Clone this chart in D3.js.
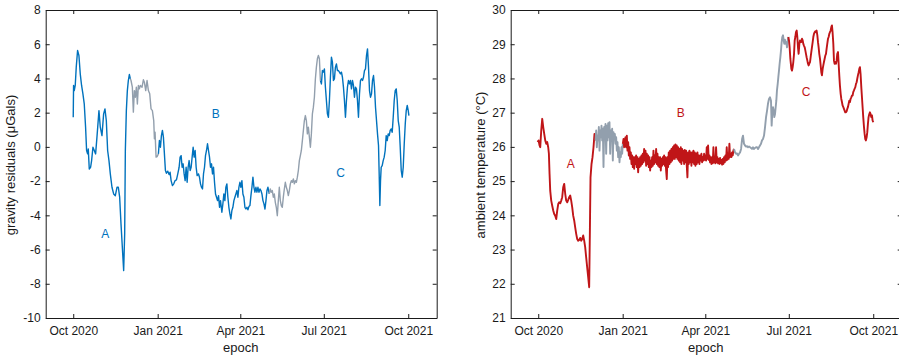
<!DOCTYPE html>
<html><head><meta charset="utf-8">
<script src="https://cdn.jsdelivr.net/npm/d3@7"></script>
<style>body{margin:0;background:#fff} svg{display:block} text{font-family:"Liberation Sans",Arial,sans-serif;}</style>
</head><body><svg id="c" width="899" height="355"></svg>
<script>
// day offsets are counted from 1 Oct 2020 (UTC)
const startDate = Date.UTC(2020, 9, 1);
const xDomain = ["2020-09-01T00:00:00Z", "2021-11-01T00:00:00Z"];
const xTickDates = ["2020-10-01", "2021-01-01", "2021-04-01", "2021-07-01", "2021-10-01"];
const gravityTicks = [-10, -8, -6, -4, -2, 0, 2, 4, 6, 8];
const tempTicks = [21, 22, 23, 24, 25, 26, 27, 28, 29, 30];

// [day offset, gravity residual µGal]
const gravity = [[0,1.73],[0.36,3.59],[1.09,3.29],[2.18,3.59],[3.28,4.66],[4.73,5.63],[6.19,5.34],[7.64,4.27],[9.1,3.59],[10.55,3.1],[12.01,2.51],[13.46,1.15],[14.56,-0.21],[15.65,-0.41],[16.38,-0.12],[17.47,-1.29],[18.92,-1.19],[20.01,-0.8],[21.47,-0.02],[22.93,-0.21],[24.38,-0.41],[25.84,0.57],[28.02,2.12],[29.48,1.15],[31.3,0.66],[33.12,1.93],[34.57,2.22],[36.03,1.54],[37.48,-0.21],[38.94,-0.8],[40.39,-1.58],[42.21,-2.36],[44.03,-2.75],[45.85,-2.85],[47.67,-2.36],[49.13,-2.36],[50.58,-2.94],[52.04,-4.5],[53.49,-5.87],[54.95,-7.23],[56.04,-5.09],[56.77,-0.21],[57.86,2.12],[58.95,3.29],[60.04,3.88],[61.14,4.23],
[62.23,3.98],[62.95,3.88],[64.41,3.49],[65.5,2.03],[66.59,3.29],[67.69,2.9],[68.78,3.49],[69.87,2.51],[70.96,3.59],[72.05,3.39],[73.14,3.59],[74.96,3.49],[76.42,3.92],[77.51,3.78],[78.97,3.29],[80.42,3.88],[81.88,3.29],[83.33,3.1],[84.79,2.22],[86.24,2.12],[87.7,1.54],[88.43,0.47],[89.16,0.86],[90.25,-0.6],[91.34,-0.57],
[92.79,-0.41],[93.89,0.37],[94.98,-0.02],[96.07,0.66],[97.16,0.96],[98.25,0.57],[99.34,-0.41],[100.44,-1.38],[101.53,-1.54],[102.98,-1.42],[104.44,-1.62],[105.53,-1.48],[106.62,-1.97],[108.08,-2.26],[109.53,-2.16],[110.99,-1.97],[112.45,-1.93],[113.9,-1.58],[115.36,-1.19],[116.45,-0.6],[117.54,-0.51],[118.63,-1.19],[119.72,-0.99],[120.82,-1.58],[121.91,-1.97],[123,-1.19],[124.09,-2.07],[125.18,-1.19],[126.27,-0.8],[127.37,-1.38],[128.46,-1.19],[129.55,-0.6],[130.64,-0.02],[131.73,-0.6],[132.82,-0.21],[133.92,-1.19],[135.01,-1.68],[136.46,-1.58],[137.55,-1.77],[138.65,-2.16],[139.74,-2.36],[140.83,-2.46],[141.92,-1.58],[143.01,-1.19],[144.1,-0.51],[145.2,-0.21],[146.29,0.18],[147.38,-0.21],[148.47,-0.6],[149.56,-1.19],[150.66,-0.99],[151.75,-1.58],[152.84,-1.19],[153.93,-2.07],[155.02,-2.75],[156.11,-2.94],[157.21,-3.14],[158.3,-2.85],[159.39,-3.53],[160.48,-3.14],[161.94,-3.82],[163.03,-3.33],[164.12,-2.75],[165.21,-3.14],[166.3,-2.36],[167.39,-2.16],[168.49,-2.94],[169.58,-3.53],[170.67,-3.92],[171.76,-4.21],[172.85,-3.72],[173.94,-3.53],[175.04,-3.14],[176.13,-2.94],[177.22,-2.75],[178.31,-2.55],[179.4,-2.94],[180.49,-2.36],[181.59,-2.07],[182.68,-2.36],[183.77,-1.97],[184.86,-2.75],[185.95,-2.94],[187.05,-3.53],[188.14,-3.63],[189.23,-3.53],[190.32,-3.68],[191.41,-3.49],[192.5,-3.43],[193.6,-2.85],[194.69,-2.36],[195.78,-1.77],[196.87,-2.36],[197.96,-2.65],[199.05,-2.36],[200.15,-2.65],[201.24,-2.36],[202.33,-2.65],[203.42,-2.46],[204.51,-2.55],[205.6,-2.75],[206.7,-3.14],[207.79,-3.33],[208.88,-3.63],[209.97,-3.14],[211.06,-2.55],[212.15,-2.36],
[213.61,-2.75],[214.7,-2.46],[215.79,-2.65],[216.89,-2.55],[217.98,-2.94],[219.07,-2.75],[220.16,-3.24],[221.25,-3.53],[222.34,-4.02],[223.44,-3.14],[224.53,-2.36],[225.62,-3.14],[226.71,-3.43],[227.8,-3.53],[228.89,-2.94],[229.99,-2.46],[231.08,-2.07],[232.17,-2.36],[233.26,-2.55],[234.35,-2.85],[235.44,-2.55],[236.54,-2.16],[237.63,-1.97],[238.72,-2.07],[239.81,-1.87],[240.9,-2.16],[241.99,-1.97],[243.09,-2.07],[244.18,-1.77],[245.27,-1.38],[246.36,-0.8],[247.45,-0.51],[248.54,-0.21],[249.64,0.37],[250.73,0.96],[251.82,1.54],[252.91,1.83],[254,1.54],[255.09,0.76],[256.19,1.15],[257.28,0.57],[258.37,-0.02],[259.46,0.76],[260.55,1.93],[261.64,2.32],[262.74,2.9],[263.83,3.98],[264.92,4.66],[266.01,5.15],[267.1,5.34],[268.2,5.15],
[269.29,3.88],[270.38,3.68],[271.47,4.46],[272.56,4.37],[273.65,4.56],[274.75,3.49],[275.84,2.71],[276.93,1.93],[278.02,1.73],[279.11,2.71],[280.2,4.07],[281.3,5.24],[282.39,4.95],[283.48,3.88],[284.57,3.98],[285.66,4.66],[286.75,4.85],[287.85,4.46],[288.94,4.46],[290.03,4.37],[291.12,4.27],[292.21,4.37],[293.3,4.07],[294.4,3.49],[295.49,2.71],[296.58,1.73],[297.67,2.71],[298.76,3.49],[299.85,3.88],[300.95,3.68],[302.04,3.88],[303.13,3.39],[304.22,3.88],[305.31,3.59],[306.4,2.9],[307.5,3.49],[308.59,3.39],[309.68,2.71],[310.77,1.73],[311.86,3.1],[312.95,3.88],[314.05,3.98],[315.14,3.88],[316.23,4.07],[317.32,4.46],[318.41,4.56],[319.51,5.34],[320.6,5.73],[321.69,4.66],[322.78,3.29],[323.87,2.9],[324.96,3.1],[326.06,3.88],[327.15,4.17],[328.24,3.49],[329.33,2.32],[330.42,1.54],[331.51,0.76],[332.61,0.08],[333.33,-1.58],[334.06,-3.43],[334.79,-1.97],[335.52,-1.19],[336.61,-1.09],[337.7,-0.8],[338.79,-0.6],[339.88,-0.21],[340.98,0.66],[342.07,0.37],[343.16,0.76],[344.25,0.66],[345.34,0.96],[346.43,1.05],[347.53,0.86],[348.62,1.73],[349.71,2.71],[350.8,3.29],[351.89,3.39],[352.98,2.71],[354.08,1.54],[355.17,1.15],[356.26,-0.02],[357.35,-1.38],[358.44,-1.77],[359.53,-1.19],[360.63,0.18],[361.75,1.35],[362.81,2.12],[363.9,2.42],[364.99,2.12],[365.72,1.83]];

// [day offset, ambient temperature °C]
const temperature = [[-0.73,26.14],[0.36,26.19],[1.45,26.04],[2.18,25.99],[3.27,26.48],[4.35,26.82],[5.44,26.58],[6.53,26.38],[7.62,26.19],[8.71,26.09],[9.8,26.14],[10.88,25.99],[11.61,25.8],[12.34,25.21],[13.06,24.72],[14.15,24.43],[15.24,24.28],[16.33,24.14],[17.41,24.04],[18.5,23.99],[19.59,23.89],[20.68,24.14],[21.77,24.33],[22.86,24.38],[23.94,24.35],[25.03,24.43],[26.12,24.53],[27.21,24.82],[28.3,24.92],[29.39,24.63],[30.47,24.43],[31.56,24.38],[32.65,24.45],[33.74,24.53],[34.83,24.58],[35.92,24.43],[37,24.24],[38.09,23.99],[39.18,23.85],[40.27,23.65],[41.36,23.46],[42.45,23.31],[43.54,23.26],[44.62,23.28],[45.71,23.34],[46.8,23.26],[47.89,23.31],[48.98,23.41],[50.07,23.26],[51.15,23.07],[52.24,22.77],[53.33,22.48],[54.42,22.19],[55.51,21.9],[56.23,23.46],[56.96,25.11],[58.05,25.5],[59.14,25.7],[60.22,25.99],[61.31,26.38],
[62.4,26.19],[63.13,26.48],[63.85,25.99],[64.58,26.33],[65.3,26.19],[66.03,26.58],[66.76,25.89],[67.48,26.48],[68.21,26.28],[68.93,26.62],[69.66,26.19],[70.38,26.53],[71.11,25.41],[71.84,26.58],[72.56,26.38],[73.29,26.67],[74.01,25.8],[74.74,26.62],[75.46,26.19],[76.19,26.69],[76.92,26.28],[77.64,26.72],[78.37,25.8],[79.09,26.48],[79.82,26.28],[80.54,26.53],[81.27,25.6],[82,26.43],[82.72,26.23],[83.45,26.38],[84.17,26.09],[84.9,26.28],[85.62,25.89],[86.35,26.14],[87.08,25.7],[87.8,25.99],[88.53,25.55],[89.25,25.84],[89.98,25.7],[90.7,25.99],[91.43,25.8],
[92.16,26.09],[92.89,26.23],[93.61,25.99],[94.34,26.19],[95.06,26.28],[95.79,25.99],[96.51,26.33],[97.24,25.89],[97.97,26.14],[98.69,25.75],[99.42,25.99],[100.14,25.65],[100.87,25.84],[101.6,25.5],[102.32,25.75],[103.05,25.41],[103.77,25.7],[104.5,25.36],[105.22,25.7],[105.95,25.5],[106.67,25.75],[107.4,25.41],[108.13,25.7],[108.85,25.26],[109.58,25.65],[110.3,25.41],[111.03,25.7],[111.75,25.45],[112.48,25.75],[113.21,25.5],[113.93,25.8],[114.66,25.55],[115.38,25.94],[116.11,25.6],[116.83,25.89],[117.56,25.45],[118.29,25.8],[119.01,25.5],[119.74,25.75],[120.46,25.41],[121.19,25.7],[121.91,25.31],[122.64,25.6],[123.37,25.41],[124.09,25.7],[124.82,25.45],[125.54,25.89],[126.27,25.5],[126.99,25.75],[127.72,25.55],[128.45,25.94],[129.17,25.5],[129.9,25.8],[130.62,25.45],[131.35,25.7],[132.07,25.41],[132.8,25.7],[133.53,25.31],[134.25,25.65],[134.98,25.45],[135.7,25.7],[136.43,25.5],[137.15,25.75],[137.88,25.45],[138.61,25.7],[139.33,25.31],[140.06,25.06],[140.78,25.7],[141.51,25.41],[142.23,25.84],[142.96,25.5],[143.69,25.89],[144.41,25.55],[145.14,25.94],[145.86,25.6],[146.59,25.99],[147.31,25.65],[148.04,26.04],[148.77,25.65],[149.49,26.07],[150.22,25.7],[150.94,26.04],[151.67,25.65],[152.39,25.99],[153.12,25.6],[153.85,25.94],[154.57,25.55],[155.3,25.99],[156.02,25.5],[156.75,25.94],[157.47,25.6],[158.2,25.89],[158.93,25.5],[159.65,25.91],[160.38,25.55],[161.1,25.89],[161.83,25.45],[162.55,25.11],[163.28,25.84],[164.01,25.5],[164.73,25.89],[165.46,25.55],[166.18,25.84],[166.91,25.45],[167.63,25.84],[168.36,25.55],[169.09,25.89],[169.81,25.5],[170.54,25.84],[171.26,25.45],[171.99,25.8],[172.71,25.5],[173.44,25.84],[174.17,25.55],[174.89,25.75],[175.62,25.5],[176.34,25.75],[177.07,25.6],[177.79,25.8],[178.52,25.55],[179.25,25.7],[179.97,25.6],[180.7,25.8],[181.42,25.62],[182.15,25.75],[182.87,25.6],[183.6,25.99],[184.33,25.65],[185.05,26.04],[185.78,25.62],[186.5,25.75],[187.23,25.55],[187.95,25.7],[188.68,25.5],[189.41,25.7],[190.13,25.52],[190.86,25.99],[191.58,25.55],[192.31,25.7],[193.03,25.52],[193.76,25.99],[194.49,25.55],[195.21,25.7],[195.94,25.52],[196.66,25.65],[197.39,25.5],[198.11,25.68],[198.84,25.52],[199.57,25.62],[200.29,25.48],[201.02,25.65],[201.74,25.5],[202.47,25.7],[203.19,25.55],[203.92,25.75],[204.65,25.6],[205.37,25.99],[206.1,25.62],[206.82,25.8],[207.55,25.65],[208.27,26.09],[209,25.7],[209.73,25.8],[210.45,25.7],[211.18,25.84],[211.9,25.75],[212.63,25.89],
[213.3,25.94],[214.4,25.84],[215.5,25.8],[216.6,25.81],[217.7,25.75],[218.8,25.8],[219.9,25.84],[221,25.94],[222.1,26.23],[223.1,26.33],[224.2,26.09],[225.3,26.04],[226.4,26.01],[227.5,26.02],[228.6,25.99],[229.7,26.01],[230.8,25.99],[231.8,25.97],[232.9,25.94],[234,25.99],[235.1,25.94],[236.2,25.97],[237.3,25.99],[238.4,25.99],[239.5,25.94],[240.5,25.99],[241.6,26.04],[242.7,26.09],[243.8,26.19],[244.9,26.23],[246,26.33],[247.1,26.58],[248.2,26.87],[249.3,27.06],[250.3,27.26],[251.4,27.4],[252.5,27.45],[253.6,27.35],[254.3,26.62],[255.1,27.06],[255.8,27.16],[256.5,27.06],[257.2,26.87],[258,26.96],[258.7,27.16],[259.4,27.35],[260.1,27.65],[260.9,27.84],[261.6,28.04],[262.3,28.23],[263,28.43],[263.8,28.62],[264.5,28.82],[265.2,29.06],[265.9,29.21],[266.7,29.26],[267.4,29.11],[268.1,29.01],[268.8,29.13],[269.6,29.01],[270.3,29.06],[271,28.91],[271.8,29.11],
[272.5,29.21],[273.2,29.11],[273.9,28.91],[274.7,28.57],[275.8,28.28],[276.5,28.23],[277.2,28.33],[277.9,28.48],[278.7,28.72],[279.4,29.11],[280.1,29.21],[280.8,29.35],[281.6,29.4],[282.3,29.21],[283,28.91],[283.7,28.72],[284.5,29.01],[285.2,29.11],[285.9,29.06],[286.6,29.06],[287.4,29.16],[288.1,29.11],[288.8,29.01],[289.5,28.96],[290.3,28.91],[291,28.82],[291.7,28.72],[292.4,28.62],[293.2,28.52],[293.9,28.43],[294.6,28.38],[295.3,28.43],[296.1,28.48],[296.8,28.62],[297.5,28.77],[298.2,28.91],[299,29.06],[299.7,29.21],[300.4,29.3],[301.2,29.35],[301.9,29.38],[302.6,29.35],[303.3,29.4],[304.1,29.26],[304.8,29.06],[305.5,28.91],[306.2,28.72],[307,28.57],[307.7,28.38],[308.4,28.18],[309.1,28.09],[309.9,28.28],[310.6,28.38],[311.3,28.48],[312,28.57],[312.8,28.67],[313.5,28.72],[314.2,28.87],[314.9,29.01],[315.7,29.16],[316.4,29.21],[317.1,29.3],[317.8,29.35],[318.6,29.4],[319.3,29.5],[320,29.55],[320.7,29.35],[321.5,29.01],[322.2,28.52],[322.9,28.43],[323.6,28.48],[324.4,28.43],[325.1,28.52],[325.8,28.72],[326.6,28.77],[327.3,28.43],[328,28.09],[328.7,27.79],[329.5,27.55],[330.2,27.4],[330.9,27.31],[331.6,27.21],[332.4,27.16],[333.1,27.11],[333.8,27.06],[334.5,27.01],[335.3,27.01],[336,27.04],[336.7,27.11],[337.4,27.16],[338.2,27.26],[338.9,27.35],[339.6,27.31],[340.3,27.4],[341.1,27.45],[341.8,27.5],[342.5,27.5],[343.2,27.6],[344,27.65],[344.7,27.7],[345.4,27.74],[346.2,27.84],[346.9,27.89],[347.6,27.99],[348.3,28.09],[349.1,28.18],[349.8,28.28],[350.5,28.33],[351.2,28.13],[352,27.74],[352.7,27.45],[353.4,27.16],[354.1,26.87],[354.9,26.58],[355.6,26.38],[356.3,26.23],[357,26.19],[357.8,26.28],[358.5,26.43],[359.2,26.67],[359.9,26.87],[360.7,26.96],[361.4,27.01],[362.1,26.96],[362.8,26.87],[363.6,26.92],[364.3,26.77],[365,26.72]];

// periods (day offsets) drawn in grey
const gravityGrey = [[62, 92], [213, 268.6]];
const tempGrey = [[61.5, 92], [213, 272.2]];

// annotation letters: [text, day offset, value]
const gravityLabels = [["A", 34.9, -5.05], ["B", 155.2, 1.96], ["C", 291.4, -1.51]];
const tempLabels = [["A", 35.4, 25.5], ["B", 155.2, 26.99], ["C", 291.7, 27.6]];

const svg = d3.select("#c");
const toDate = d => new Date(startDate + d * 864e5);
const fmt = d3.utcFormat("%b %Y");
const ink = "#1a1a1a";

function panel(o) {
  const x = d3.scaleUtc().domain(xDomain.map(s => new Date(s))).range([o.x0, o.x1]);
  const y = d3.scaleLinear().domain(o.yDomain).range([o.y1, o.y0]);
  const g = svg.append("g");
  const ticks = xTickDates.map(s => new Date(s + "T00:00:00Z"));

  // split into coloured / grey segments sharing boundary points
  const isGrey = p => o.grey.some(([a, b]) => p[0] >= a && p[0] <= b);
  const segs = [];
  let cur = null;
  o.data.forEach(p => {
    const gr = isGrey(p);
    if (!cur || cur.g !== gr) {
      if (cur) cur.pts.push(p);
      cur = { g: gr, pts: [] };
      segs.push(cur);
    }
    cur.pts.push(p);
  });
  const line = d3.line().x(p => x(toDate(p[0]))).y(p => y(p[1]));
  g.append("g").selectAll("path").data(segs).join("path")
    .attr("d", s => line(s.pts))
    .attr("fill", "none")
    .attr("stroke", s => s.g ? o.greyColor : o.color)
    .attr("stroke-width", o.lw)
    .attr("stroke-linejoin", "round");

  // annotation letters
  g.append("g").selectAll("text").data(o.labels).join("text")
    .attr("x", d => x(toDate(d[1]))).attr("y", d => y(d[2]))
    .attr("dy", "0.35em").attr("text-anchor", "middle")
    .attr("font-size", 12).attr("fill", o.color).text(d => d[0]);

  // axes (box with inward ticks)
  const style = sel => {
    sel.selectAll("path,line").attr("stroke", ink);
    sel.selectAll("text").attr("fill", ink).attr("font-size", 12)
      .attr("font-family", '"Liberation Sans", Arial, sans-serif');
    sel.attr("font-family", null).attr("font-size", null);
  };
  g.append("g").attr("transform", `translate(0,${o.y1})`)
    .call(d3.axisBottom(x).tickValues(ticks).tickFormat(fmt).tickSizeInner(-4).tickSizeOuter(0).tickPadding(8)).call(style);
  g.append("g").attr("transform", `translate(0,${o.y0})`)
    .call(d3.axisTop(x).tickValues(ticks).tickFormat("").tickSizeInner(-4).tickSizeOuter(0)).call(style);
  g.append("g").attr("transform", `translate(${o.x0},0)`)
    .call(d3.axisLeft(y).tickValues(o.yTicks).tickFormat(d => String(d)).tickSizeInner(-4).tickSizeOuter(0).tickPadding(5)).call(style);
  g.append("g").attr("transform", `translate(${o.x1},0)`)
    .call(d3.axisRight(y).tickValues(o.yTicks).tickFormat("").tickSizeInner(-4).tickSizeOuter(0)).call(style);

  // axis titles
  g.append("text").attr("x", (x(ticks[0]) + x(ticks[4])) / 2).attr("y", 352)
    .attr("text-anchor", "middle").attr("font-size", 13).attr("fill", ink).text("epoch");
  g.append("text").attr("transform", `translate(${o.ylabX},${(o.y0 + o.y1) / 2 + 1}) rotate(-90)`)
    .attr("text-anchor", "middle").attr("font-size", 13).attr("fill", ink).text(o.ylabel);
}

panel({ x0: 45.7, x1: 436.7, y0: 10, y1: 318, yDomain: [-10, 8], yTicks: gravityTicks,
  data: gravity, grey: gravityGrey, color: "#0072BD", greyColor: "#929FAD", lw: 1.4,
  labels: gravityLabels, ylabel: "gravity residuals (\u03BCGals)", ylabX: 15 });
panel({ x0: 510.7, x1: 901.7, y0: 10, y1: 318, yDomain: [21, 30], yTicks: tempTicks,
  data: temperature, grey: tempGrey, color: "#C01518", greyColor: "#929FAD", lw: 1.9,
  labels: tempLabels, ylabel: "ambient temperature (\u00B0C)", ylabX: 484.6 });
</script></body></html>
